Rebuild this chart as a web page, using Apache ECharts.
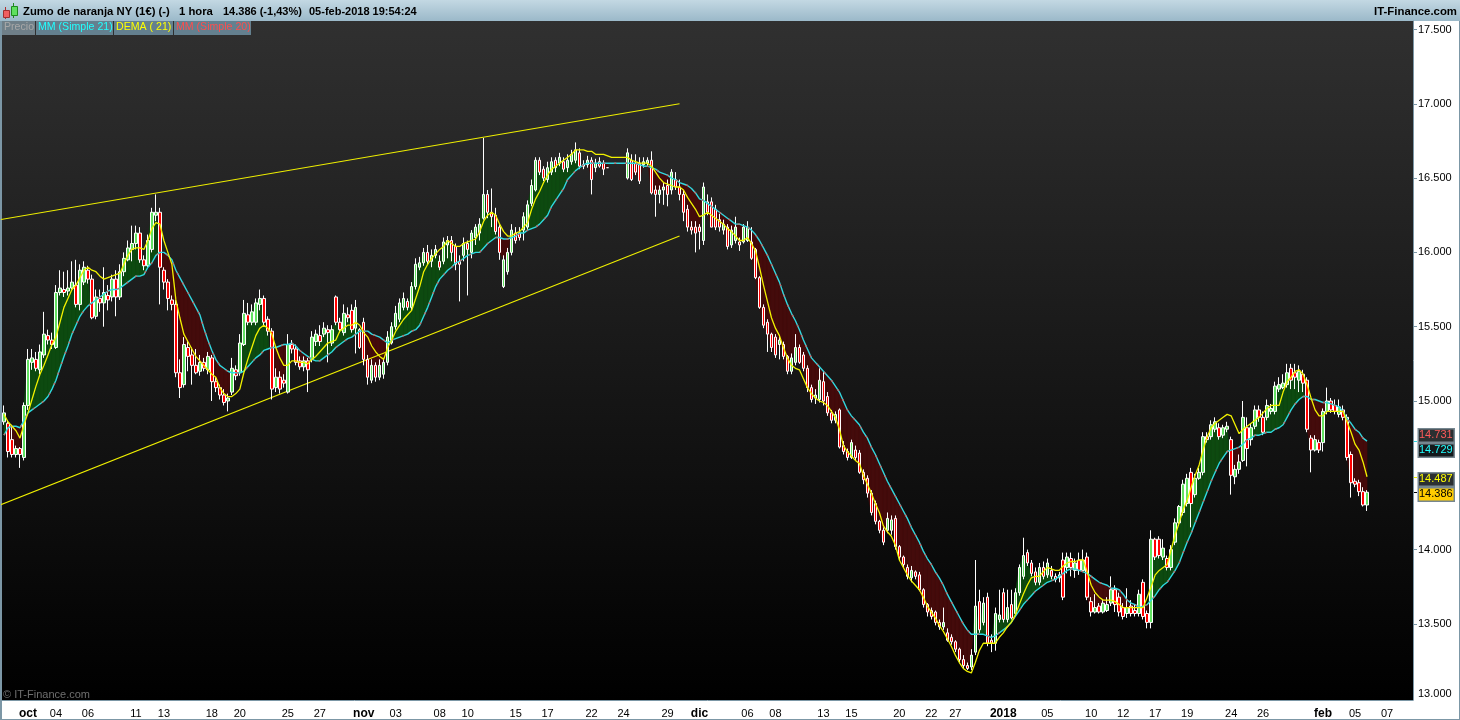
<!DOCTYPE html>
<html>
<head>
<meta charset="utf-8">
<title>Zumo de naranja NY</title>
<script src="https://cdn.jsdelivr.net/npm/echarts@6/dist/echarts.min.js"></script>
<style>
html,body{margin:0;padding:0;background:#fff;}
#chart{width:1460px;height:720px;}
</style>
</head>
<body>
<div id="chart"></div>
<script>
// velas de 1 hora
const apertura=[14.86,14.85,14.74,14.64,14.68,14.62,14.97,15.26,15.28,15.21,
15.31,15.44,15.41,15.36,15.73,15.75,15.74,15.76,15.78,15.65,
15.80,15.88,15.82,15.57,15.69,15.66,15.71,15.70,15.82,15.70,
15.87,15.95,16.02,16.06,16.13,15.95,15.91,16.02,16.25,16.27,
15.88,15.80,15.68,15.65,15.19,15.11,15.36,15.31,15.24,15.20,
15.26,15.21,15.29,15.13,15.09,15.04,15.00,15.06,15.21,15.19,
15.38,15.58,15.53,15.53,15.65,15.69,15.55,15.47,15.09,15.16,
15.14,15.06,15.38,15.35,15.27,15.23,15.27,15.28,15.40,15.44,
15.45,15.48,15.39,15.70,15.53,15.46,15.58,15.61,15.49,15.48,
15.53,15.28,15.14,15.24,15.16,15.18,15.26,15.39,15.50,15.55,
15.63,15.67,15.63,15.77,15.90,15.93,16.00,15.94,15.98,15.94,
15.94,16.05,16.08,16.04,15.94,15.98,16.06,16.00,16.10,16.13,
16.23,16.39,16.27,16.25,16.17,15.77,15.87,16.00,16.13,16.13,
16.15,16.17,16.33,16.42,16.62,16.56,16.49,16.54,16.62,16.60,
16.61,16.57,16.61,16.62,16.67,16.59,16.59,16.62,16.57,16.61,
16.60,16.57,null,null,null,null,16.50,16.62,16.60,16.60,
16.59,16.60,16.62,16.42,16.39,16.42,16.45,16.42,16.49,16.44,
16.39,16.29,16.17,16.17,16.17,16.08,16.34,16.34,16.29,16.22,
16.15,16.17,16.05,16.08,16.07,16.07,16.08,16.07,16.02,15.83,
15.63,15.53,15.45,15.43,15.38,15.38,15.30,15.20,15.26,15.36,
15.31,15.22,15.09,15.02,15.01,15.13,15.03,14.92,14.87,14.94,
14.70,14.66,14.62,14.67,14.65,14.52,14.48,14.38,14.31,14.19,
14.13,14.13,14.13,14.21,14.02,13.95,13.88,13.81,13.85,13.83,
13.73,13.63,13.59,13.58,13.51,13.48,13.44,13.41,13.38,13.33,
13.26,13.22,13.21,13.31,13.65,13.51,13.68,13.39,13.37,13.53,
13.71,13.53,13.63,13.57,13.71,13.82,13.98,13.91,13.85,13.78,
13.88,13.83,13.86,13.82,13.81,13.93,13.88,13.94,13.86,13.93,
13.86,13.95,13.65,13.58,13.62,13.58,13.59,13.64,13.73,13.68,
13.61,13.57,13.62,13.59,13.57,13.78,13.57,13.51,14.07,14.07,
13.95,13.94,13.88,14.05,14.18,14.25,14.31,14.52,14.37,14.48,
14.52,14.76,14.76,14.81,14.82,14.77,14.81,14.74,14.49,14.54,
14.60,14.82,14.74,14.83,14.94,14.89,14.89,14.93,14.93,15.08,
15.09,15.11,15.22,15.19,15.14,15.18,15.14,14.75,14.67,14.72,
14.72,14.93,15.00,14.97,14.91,14.94,14.89,14.64,14.46,14.45,
14.39,14.30];
const cierre=[14.92,14.66,14.64,14.68,14.64,14.97,15.28,15.29,15.22,15.33,
15.45,15.41,15.38,15.73,15.76,15.73,15.76,15.80,15.65,15.88,
15.90,15.82,15.56,15.70,15.66,15.73,15.68,15.82,15.70,15.87,
15.96,16.03,16.06,16.13,15.95,15.91,16.08,16.27,16.27,15.90,
15.80,15.69,15.65,15.19,15.09,15.38,15.30,15.24,15.19,15.26,
15.22,15.30,15.13,15.09,15.04,14.99,15.02,15.22,15.17,15.39,
15.59,15.53,15.60,15.66,15.69,15.53,15.47,15.08,15.16,15.08,
15.12,15.38,15.35,15.26,15.23,15.27,15.21,15.43,15.45,15.40,
15.49,15.46,15.48,15.53,15.48,15.59,15.56,15.48,15.63,15.36,
15.28,15.16,15.24,15.16,15.24,15.26,15.43,15.50,15.59,15.66,
15.69,15.63,15.77,15.92,15.93,16.00,15.94,15.98,16.02,15.90,
16.07,16.08,16.00,15.92,15.92,16.06,16.02,16.13,16.17,16.19,
16.39,16.27,16.24,16.14,16.00,15.95,16.00,16.15,16.08,16.10,
16.24,16.32,16.45,16.62,16.54,16.50,16.57,16.61,16.57,16.64,
16.56,16.62,16.66,16.69,16.58,16.58,16.62,16.49,16.60,16.58,
16.56,16.57,null,null,null,null,16.67,16.49,16.54,16.48,
16.61,16.62,16.40,16.39,16.42,16.44,16.39,16.54,16.44,16.39,
16.27,16.17,16.15,16.13,16.14,16.44,16.27,16.17,16.17,16.17,
16.19,16.04,16.15,16.17,16.05,16.17,16.17,15.96,15.83,15.63,
15.51,15.45,15.36,15.31,15.41,15.30,15.20,15.29,15.36,15.26,
15.22,15.09,15.01,15.04,15.14,15.00,14.92,14.87,14.91,14.69,
14.66,14.62,14.72,14.62,14.52,14.47,14.38,14.25,14.19,14.13,
14.05,14.21,14.20,14.02,13.95,13.90,13.82,13.86,13.82,13.73,
13.63,13.58,13.55,13.51,13.48,13.51,13.39,13.38,13.33,13.26,
13.22,13.20,13.29,13.62,13.46,13.64,13.37,13.37,13.57,13.56,
13.53,13.61,13.54,13.71,13.88,13.96,13.91,13.84,13.78,13.88,
13.82,13.91,13.82,13.80,13.83,13.68,13.95,13.88,13.91,13.86,
13.93,13.68,13.58,13.61,13.58,13.64,13.63,13.73,13.63,13.58,
13.55,13.61,13.57,13.57,13.70,13.55,13.51,14.07,13.95,13.96,
14.01,13.88,14.00,14.18,14.29,14.44,14.48,14.31,14.48,14.52,
14.76,14.74,14.84,14.86,14.76,14.82,14.83,14.50,14.54,14.59,
14.89,14.68,14.82,14.94,14.89,14.79,14.97,14.95,15.10,15.11,
15.12,15.19,15.14,15.16,15.20,15.12,14.81,14.67,14.74,14.67,
14.93,15.00,14.94,14.93,14.96,14.89,14.62,14.45,14.44,14.39,
14.30,14.386];
const minimo=[14.84,14.62,14.62,14.62,14.55,14.60,14.94,15.21,15.20,15.18,
15.29,15.38,15.35,15.35,15.71,15.70,15.71,15.75,15.63,15.61,
15.78,15.79,15.55,15.55,15.60,15.50,15.61,15.67,15.57,15.68,
15.84,15.94,15.94,16.02,15.93,15.88,15.90,16.00,16.21,15.65,
15.75,15.61,15.61,15.16,15.02,15.09,15.20,15.11,15.18,15.17,
15.20,15.18,15.00,15.06,15.01,14.97,14.93,15.04,15.14,15.17,
15.37,15.51,15.51,15.51,15.61,15.51,15.44,15.01,15.06,15.05,
15.09,15.05,15.32,15.24,15.21,15.20,15.06,15.26,15.37,15.37,
15.43,15.26,15.37,15.51,15.46,15.44,15.53,15.46,15.32,15.35,
15.24,15.11,15.12,15.13,15.14,15.15,15.24,15.38,15.48,15.53,
15.61,15.61,15.61,15.75,15.88,15.91,15.92,15.90,15.96,15.88,
15.92,15.96,15.94,15.88,15.67,15.94,15.71,15.96,16.05,16.08,
16.22,16.23,16.17,16.12,15.95,15.76,15.85,15.98,16.06,16.08,
16.08,16.15,16.31,16.41,16.52,16.48,16.47,16.52,16.54,16.58,
16.54,16.54,16.59,16.60,16.56,16.56,16.57,16.39,16.54,16.57,
16.52,16.57,null,null,null,null,16.49,16.48,16.52,16.46,
16.57,16.58,16.39,16.24,16.33,16.32,16.31,16.39,16.42,16.35,
16.21,16.14,16.12,16.00,16.02,16.05,16.25,16.17,16.15,16.14,
16.12,16.02,16.03,16.06,16.01,16.06,16.07,15.95,15.82,15.62,
15.49,15.33,15.33,15.29,15.28,15.28,15.18,15.18,15.24,15.25,
15.20,15.06,14.99,14.98,14.99,14.97,14.90,14.85,14.85,14.68,
14.64,14.60,14.61,14.60,14.51,14.44,14.35,14.23,14.17,14.11,
14.03,14.11,14.10,14.00,13.93,13.88,13.80,13.78,13.80,13.72,
13.61,13.55,13.53,13.49,13.46,13.46,13.38,13.36,13.31,13.24,
13.20,13.19,13.19,13.29,13.44,13.49,13.35,13.31,13.32,13.51,
13.51,13.51,13.53,13.55,13.69,13.80,13.89,13.82,13.76,13.76,
13.80,13.81,13.80,13.78,13.78,13.66,13.84,13.82,13.81,13.83,
13.85,13.66,13.55,13.57,13.57,13.57,13.58,13.62,13.58,13.55,
13.53,13.54,13.55,13.55,13.55,13.53,13.47,13.47,13.93,13.94,
13.93,13.86,13.86,14.03,14.16,14.23,14.29,14.15,14.35,14.47,
14.50,14.72,14.74,14.79,14.74,14.75,14.79,14.37,14.44,14.51,
14.59,14.56,14.70,14.81,14.86,14.77,14.87,14.91,14.91,15.06,
15.08,15.09,15.08,15.08,15.06,15.06,14.79,14.52,14.66,14.65,
14.66,14.91,14.92,14.91,14.89,14.87,14.60,14.35,14.42,14.36,
14.29,14.26];
const maximo=[14.97,14.87,14.84,14.70,14.69,14.99,15.35,15.35,15.33,15.38,
15.60,15.48,15.46,15.78,15.88,15.87,15.88,15.94,15.95,15.92,
15.94,15.91,15.85,15.75,15.75,15.90,15.78,15.85,15.88,15.92,
16.00,16.08,16.18,16.18,16.17,15.98,16.12,16.30,16.39,16.30,
15.90,15.82,15.71,15.68,15.28,15.43,15.41,15.36,15.35,15.31,
15.29,15.33,15.31,15.16,15.11,15.08,15.05,15.29,15.24,15.45,
15.68,15.66,15.65,15.69,15.75,15.71,15.57,15.49,15.22,15.20,
15.18,15.45,15.41,15.38,15.30,15.30,15.29,15.47,15.48,15.51,
15.53,15.51,15.51,15.71,15.56,15.65,15.63,15.65,15.68,15.49,
15.56,15.31,15.28,15.26,15.28,15.29,15.47,15.53,15.64,15.69,
15.73,15.69,15.80,15.96,15.97,16.03,16.05,16.02,16.05,15.98,
16.10,16.11,16.11,16.06,15.98,16.10,16.08,16.15,16.19,16.23,
16.77,16.42,16.43,16.30,16.19,15.98,16.03,16.19,16.17,16.17,
16.27,16.35,16.49,16.64,16.64,16.58,16.61,16.64,16.64,16.67,
16.64,16.66,16.69,16.74,16.70,16.62,16.65,16.64,16.63,16.64,
16.62,16.57,null,null,null,null,16.70,16.66,16.66,16.64,
16.64,16.64,16.68,16.45,16.45,16.47,16.49,16.56,16.54,16.49,
16.42,16.32,16.21,16.21,16.19,16.47,16.39,16.37,16.32,16.26,
16.22,16.19,16.18,16.24,16.10,16.19,16.21,16.17,16.03,15.84,
15.65,15.55,15.46,15.45,15.44,15.40,15.31,15.32,15.45,15.38,
15.33,15.24,15.11,15.08,15.22,15.20,15.06,14.94,14.93,14.95,
14.73,14.68,14.74,14.70,14.67,14.54,14.50,14.40,14.33,14.20,
14.15,14.25,14.23,14.23,14.03,13.96,13.90,13.89,13.86,13.85,
13.74,13.64,13.61,13.59,13.53,13.61,13.47,13.43,13.39,13.34,
13.29,13.24,13.33,13.93,13.73,13.68,13.71,13.43,13.61,13.73,
13.74,13.73,13.73,13.74,13.90,14.08,14.00,13.93,13.88,13.91,
13.92,13.94,13.89,13.84,13.85,13.98,13.98,13.98,13.94,13.98,
14.00,13.98,13.68,13.70,13.64,13.66,13.68,13.82,13.76,13.71,
13.64,13.74,13.66,13.63,13.73,13.80,13.59,14.13,14.08,14.09,
14.07,13.96,14.03,14.21,14.30,14.47,14.51,14.55,14.51,14.55,
14.79,14.79,14.87,14.89,14.85,14.84,14.86,14.76,14.57,14.64,
15.00,14.89,14.85,14.97,14.97,14.93,15.01,14.98,15.13,15.16,
15.18,15.25,15.25,15.25,15.24,15.21,15.16,14.77,14.77,14.74,
14.95,15.09,15.02,15.01,15.01,14.97,14.91,14.66,14.48,14.47,
14.42,14.40];
// medias y DEMA por vela
const mm21=[14.77,14.82,14.83,14.83,14.82,14.87,14.92,14.94,14.96,14.98,
15.00,15.03,15.08,15.14,15.22,15.30,15.37,15.45,15.51,15.57,
15.61,15.64,15.66,15.68,15.70,15.72,15.74,15.75,15.75,15.76,
15.78,15.80,15.82,15.84,15.84,15.85,15.90,15.93,15.98,16.00,
16.00,15.98,15.95,15.88,15.83,15.78,15.73,15.68,15.63,15.58,
15.49,15.41,15.34,15.28,15.24,15.22,15.20,15.19,15.19,15.19,
15.20,15.23,15.26,15.29,15.31,15.34,15.35,15.36,15.36,15.37,
15.38,15.38,15.39,15.37,15.34,15.32,15.30,15.28,15.27,15.27,
15.29,15.31,15.33,15.36,15.38,15.40,15.42,15.43,15.45,15.47,
15.47,15.47,15.45,15.44,15.43,15.41,15.39,15.41,15.42,15.43,
15.44,15.45,15.47,15.48,15.51,15.57,15.63,15.70,15.77,15.82,
15.85,15.88,15.90,15.93,15.94,15.96,15.98,15.99,16.00,16.00,
16.03,16.06,16.08,16.10,16.10,16.09,16.09,16.10,16.11,16.13,
16.13,16.15,16.16,16.17,16.19,16.22,16.25,16.31,16.35,16.39,
16.43,16.49,16.52,16.55,16.57,16.59,16.60,16.60,16.60,16.60,
16.60,16.60,16.60,16.60,16.60,16.60,16.60,16.60,16.60,16.59,
16.58,16.58,16.57,16.56,16.54,16.53,16.52,16.50,16.49,16.47,
16.46,16.45,16.43,16.40,16.36,16.35,16.33,16.31,16.29,16.27,
16.25,16.23,16.21,16.19,16.19,16.18,16.17,16.15,16.12,16.08,
16.03,15.98,15.92,15.86,15.80,15.72,15.65,15.59,15.54,15.48,
15.41,15.35,15.29,15.26,15.23,15.20,15.17,15.14,15.10,15.06,
15.00,14.94,14.90,14.87,14.84,14.79,14.75,14.69,14.64,14.58,
14.52,14.46,14.41,14.36,14.31,14.26,14.21,14.15,14.10,14.05,
13.99,13.94,13.90,13.85,13.81,13.76,13.70,13.65,13.60,13.55,
13.50,13.46,13.43,13.43,13.43,13.43,13.42,13.41,13.42,13.44,
13.46,13.48,13.51,13.55,13.59,13.63,13.66,13.69,13.72,13.74,
13.76,13.78,13.79,13.80,13.82,13.84,13.86,13.87,13.87,13.86,
13.85,13.84,13.82,13.80,13.78,13.77,13.76,13.74,13.74,13.73,
13.70,13.66,13.64,13.63,13.61,13.62,13.63,13.66,13.69,13.73,
13.76,13.78,13.82,13.86,13.91,13.98,14.05,14.11,14.18,14.25,
14.32,14.39,14.46,14.52,14.58,14.62,14.66,14.67,14.68,14.69,
14.71,14.74,14.75,14.77,14.77,14.78,14.79,14.79,14.81,14.82,
14.84,14.89,14.94,14.98,15.01,15.03,15.03,15.01,15.01,15.00,
14.99,14.99,14.98,14.97,14.96,14.93,14.88,14.85,14.81,14.79,
14.75,14.73];
const dema=[14.91,14.86,14.83,14.80,14.75,14.84,14.92,15.01,15.10,15.18,
15.24,15.31,15.38,15.43,15.53,15.63,15.69,15.75,15.78,15.83,
15.88,15.90,15.88,15.87,15.84,15.82,15.83,15.84,15.85,15.86,
15.92,15.98,16.02,16.03,16.03,16.02,16.08,16.16,16.20,16.19,
16.08,16.00,15.92,15.68,15.56,15.45,15.40,15.35,15.30,15.27,
15.24,15.21,15.18,15.16,15.09,15.05,15.03,15.03,15.05,15.08,
15.19,15.28,15.36,15.44,15.49,15.51,15.49,15.45,15.36,15.29,
15.24,15.24,15.27,15.27,15.26,15.26,15.25,15.28,15.30,15.33,
15.36,15.39,15.40,15.41,15.47,15.49,15.51,15.51,15.53,15.51,
15.46,15.43,15.37,15.33,15.30,15.28,15.36,15.41,15.47,15.51,
15.55,15.58,15.61,15.69,15.77,15.87,15.92,15.96,15.99,16.02,
16.04,16.08,16.06,16.04,16.04,16.06,16.07,16.08,16.09,16.14,
16.21,16.25,16.27,16.25,16.19,16.14,16.11,16.11,16.13,16.14,
16.17,16.20,16.29,16.36,16.41,16.47,16.52,16.56,16.58,16.60,
16.62,16.64,16.66,16.69,16.69,16.69,16.68,16.68,16.66,16.66,
16.66,16.65,16.64,16.64,16.64,16.64,16.64,16.62,16.61,16.60,
16.60,16.60,16.58,16.54,16.50,16.47,16.46,16.45,16.44,16.44,
16.42,16.37,16.33,16.29,16.24,16.25,16.27,16.25,16.23,16.21,
16.19,16.16,16.14,16.11,16.08,16.08,16.10,16.06,16.01,15.90,
15.78,15.67,15.56,15.49,15.44,15.36,15.29,15.24,15.22,15.21,
15.15,15.09,15.05,15.02,15.00,14.99,14.97,14.93,14.89,14.81,
14.70,14.66,14.63,14.60,14.58,14.50,14.44,14.38,14.31,14.25,
14.16,14.12,14.09,14.03,13.93,13.88,13.83,13.79,13.76,13.73,
13.68,13.62,13.58,13.54,13.49,13.45,13.40,13.35,13.29,13.24,
13.20,13.18,13.17,13.24,13.32,13.37,13.37,13.37,13.37,13.41,
13.44,13.48,13.51,13.56,13.63,13.70,13.76,13.81,13.82,13.82,
13.85,13.88,13.87,13.86,13.86,13.89,13.91,13.92,13.92,13.93,
13.93,13.85,13.76,13.71,13.68,13.66,13.66,13.66,13.65,13.63,
13.61,13.61,13.61,13.61,13.61,13.61,13.68,13.75,13.83,13.86,
13.88,13.90,14.00,14.10,14.18,14.27,14.33,14.42,14.50,14.57,
14.67,14.76,14.82,14.85,14.87,14.89,14.91,14.90,14.84,14.78,
14.81,14.83,14.85,14.87,14.89,14.92,14.95,14.97,14.97,14.97,
15.06,15.13,15.16,15.20,15.21,15.18,15.11,15.02,14.94,14.90,
14.90,14.93,14.93,14.93,14.93,14.93,14.86,14.79,14.71,14.67,
14.59,14.49];
// lineas de tendencia: vela inicial y final, precio inicial y final
const tendenciaVelas=[-1,169];
const tendenciaSup=[16.22,17.00];
const tendenciaInf=[14.30,16.11];
// eje
const totalVelas=353;
const ticksPrecio=[13,13.5,14,15,15.5,16,16.5,17,17.5];
const ticksFecha=['oct','04','06','11','13','18','20','25','27','nov','03','08','10','15','17','22','24','29','dic','06','08','13','15','20','22','27','2018','05','10','12','17','19','24','26','feb','05','07'];
const ticksVela=[6,13,21,33,40,52,59,71,79,90,98,109,116,128,136,147,155,166,174,186,193,205,212,224,232,238,250,261,272,280,288,296,307,315,330,338,346];
const ticksFuertes=['oct','nov','dic','2018','feb'];
const ultimosPrecios=['14.731','14.729','14.487','14.386'];

const pizarra='#7c97a6';
const fuente='"Liberation Sans", Arial, sans-serif';
const categorias=new Array(totalVelas).fill('');
ticksVela.forEach((v,i)=>{categorias[v]=ticksFecha[i];});
const velas=apertura.map((o,i)=>[o,cierre[i],minimo[i],maximo[i]]);
const bandaDatos=cierre.map((c,i)=>[i,c,mm21[i]]);

function renderBanda(params,api){
    const i=api.value(0);
    const c0=cierre[i],c1=cierre[i+1],m0=mm21[i],m1=mm21[i+1];
    if(c0==null||c1==null) return null;
    const verde='#0d4a10',rojo='#440b0b';
    const poli=(pts,color)=>({type:'polygon',shape:{points:pts.map(p=>api.coord(p))},
        style:{fill:color,stroke:color,lineWidth:0.6}});
    const d0=c0-m0,d1=c1-m1;
    if(d0*d1>=0){
        return poli([[i,c0],[i+1,c1],[i+1,m1],[i,m0]],(d0+d1)>=0?verde:rojo);
    }
    // cruce entre dos velas
    const t=d0/(d0-d1);
    const pc=api.coord([i,m0+(m1-m0)*t]);
    const a=api.coord([i,c0]),b=api.coord([i,m0]),e=api.coord([i+1,c1]),f=api.coord([i+1,m1]);
    const x=a[0]+(e[0]-a[0])*t;
    return {type:'group',children:[
        {type:'polygon',shape:{points:[a,[x,pc[1]],b]},style:{fill:d0>0?verde:rojo,stroke:d0>0?verde:rojo,lineWidth:0.6}},
        {type:'polygon',shape:{points:[[x,pc[1]],e,f]},style:{fill:d1>0?verde:rojo,stroke:d1>0?verde:rojo,lineWidth:0.6}}
    ]};
}

function chip(x,w,txt,col,bg){
    return [
        {type:'rect',left:x,top:21,shape:{width:w,height:14},style:{fill:bg}},
        {type:'text',left:x+2,top:22,style:{text:txt,fill:col,font:'10.6px '+fuente}}
    ];
}
function cajaPrecio(y,txt,col,bg,tickCol,tickY){
    return [
        {type:'rect',left:1413,top:tickY,shape:{width:4,height:1},style:{fill:tickCol}},
        {type:'rect',left:1417.5,top:y,shape:{width:36,height:13.5},style:{fill:bg,stroke:'#76868f',lineWidth:1.5}},
        {type:'text',left:1419,top:y+1.5,style:{text:txt,fill:col,font:'11px '+fuente}}
    ];
}

let chart=echarts.init(document.getElementById('chart'));
chart.setOption({
    animation:false,
    backgroundColor:'#ffffff',
    textStyle:{fontFamily:fuente},
    grid:{left:2,right:47,top:21,height:679,show:true,borderWidth:0,
        backgroundColor:new echarts.graphic.LinearGradient(0,0,0,1,[{offset:0,color:'#303030'},{offset:1,color:'#000000'}])},
    xAxis:{
        type:'category',data:categorias,boundaryGap:true,
        axisLine:{lineStyle:{color:pizarra,width:1}},
        axisTick:{length:4,alignWithLabel:true,lineStyle:{color:pizarra},interval:(i,v)=>v!==''},
        axisLabel:{color:'#000',fontSize:11,margin:8,hideOverlap:false,interval:(i,v)=>v!=='',
            formatter:v=>ticksFuertes.includes(v)?'{b|'+v+'}':v,
            rich:{b:{fontWeight:'bold',fontSize:12,color:'#000'}}},
        splitLine:{show:false}
    },
    yAxis:{
        type:'value',position:'right',min:12.988,max:17.557,scale:true,
        axisLine:{show:true,lineStyle:{color:pizarra,width:1}},
        axisTick:{show:true,length:4,lineStyle:{color:pizarra},customValues:ticksPrecio.slice(1)},
        axisLabel:{color:'#000',fontSize:11,margin:5,customValues:ticksPrecio,
            formatter:v=>v===13?'{z|13.000}':v.toFixed(3),
            rich:{z:{fontSize:11,color:'#000',padding:[0,0,8,0]}}},
        splitLine:{show:false}
    },
    series:[
        {name:'Banda',type:'custom',data:bandaDatos,renderItem:renderBanda,z:1,silent:true,clip:true,
            encode:{x:0,y:[1,2]}},
        {name:'Precio',type:'candlestick',data:velas,barWidth:3,z:3,
            itemStyle:{color:'#62e262',color0:'#ff0000',borderColor:'#ffffff',borderColor0:'#ffffff',borderWidth:1}},
        {name:'Tendencia sup',type:'line',data:tendenciaVelas.map((v,i)=>[v,tendenciaSup[i]]),symbol:'none',z:2,
            lineStyle:{color:'#efef00',width:1.1}},
        {name:'Tendencia inf',type:'line',data:tendenciaVelas.map((v,i)=>[v,tendenciaInf[i]]),symbol:'none',z:2,
            lineStyle:{color:'#efef00',width:1.1}},
        {name:'MM (Simple 21)',type:'line',data:mm21,symbol:'none',z:4,lineStyle:{color:'#2fd8e0',width:1.4}},
        {name:'MM (Simple 20)',type:'line',data:mm21,symbol:'none',z:4,lineStyle:{color:'#c06a6a',width:1.4,type:[2,9]}},
        {name:'DEMA ( 21)',type:'line',data:dema,symbol:'none',z:5,lineStyle:{color:'#f2f200',width:1.3}}
    ],
    graphic:{elements:[
        {type:'rect',left:0,top:0,shape:{width:1460,height:21},
            style:{fill:new echarts.graphic.LinearGradient(0,0,0,1,[{offset:0,color:'#c3d8e3'},{offset:1,color:'#9bb9c9'}])}},
        {type:'rect',left:0,top:21,shape:{width:2,height:699},style:{fill:pizarra}},
        {type:'rect',left:1459,top:21,shape:{width:1,height:699},style:{fill:pizarra}},
        {type:'rect',left:0,top:719,shape:{width:1460,height:1},style:{fill:pizarra}},
        // icono
        {type:'rect',left:5,top:7,shape:{width:1,height:12},style:{fill:'#b03030'}},
        {type:'rect',left:3,top:10,shape:{width:6,height:7},style:{fill:'#f06060',stroke:'#a03030',lineWidth:1}},
        {type:'rect',left:13,top:3,shape:{width:1,height:15},style:{fill:'#1e8a1e'}},
        {type:'rect',left:11,top:6,shape:{width:6,height:9},style:{fill:'#5fe05f',stroke:'#1e8a1e',lineWidth:1}},
        {type:'text',left:23,top:6,style:{text:'Zumo de naranja NY (1€) (-)',fill:'#000',font:'bold 11.3px '+fuente}},
        {type:'text',left:179,top:6,style:{text:'1 hora',fill:'#000',font:'bold 11.3px '+fuente}},
        {type:'text',left:223,top:6,style:{text:'14.386 (-1,43%)',fill:'#000',font:'bold 11px '+fuente}},
        {type:'text',left:309,top:6,style:{text:'05-feb-2018 19:54:24',fill:'#000',font:'bold 11px '+fuente}},
        {type:'text',right:3,top:6,style:{text:'IT-Finance.com',fill:'#000',font:'bold 11.4px '+fuente}},
        ...chip(2,33,'Precio','#a8a8a8','#6f7f88'),
        ...chip(36,77,'MM (Simple 21)','#22ffff','#64808f'),
        ...chip(114,59,'DEMA ( 21)','#ffff00','#64808f'),
        ...chip(174,77,'MM (Simple 20)','#ff4d4d','#64808f'),
        {type:'text',left:3,top:689,style:{text:'© IT-Finance.com',fill:'#6f6f6f',font:'11px '+fuente}},
        ...cajaPrecio(428,ultimosPrecios[0],'#ff5a5a','#2b2f31','#2fd8e0',441),
        ...cajaPrecio(443,ultimosPrecios[1],'#22ffff','#14191b','#2fd8e0',441),
        ...cajaPrecio(472,ultimosPrecios[2],'#ffff00','#2b2f31','#f2f200',477),
        ...cajaPrecio(487,ultimosPrecios[3],'#000000','#ffcc00','#000000',492)
    ]}
});
</script>
</body>
</html>
